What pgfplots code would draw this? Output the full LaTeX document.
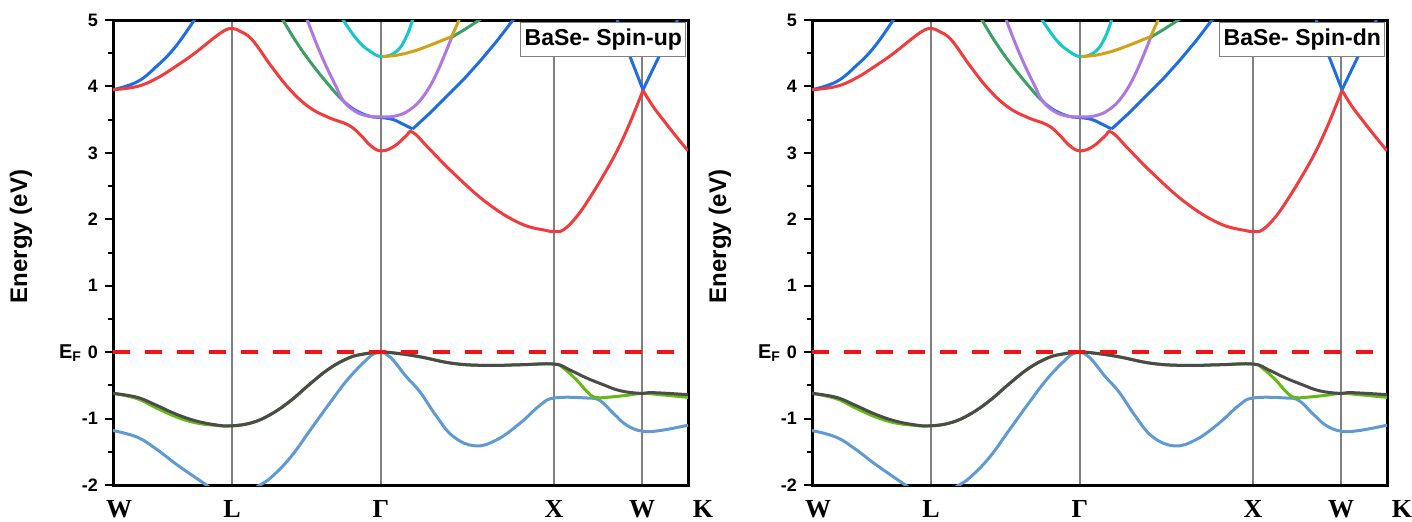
\documentclass[border=0pt]{standalone}
\usepackage{pgfplots}
\pgfplotsset{compat=1.18}
\usepackage{fontspec}
\setmainfont{Liberation Sans}
\newfontfamily\tnr{Liberation Serif}

\definecolor{cbred}{RGB}{240,60,60}
\definecolor{cbblue}{RGB}{30,110,225}
\definecolor{cbgreen}{RGB}{60,160,100}
\definecolor{cbpurple}{RGB}{175,120,225}
\definecolor{cbcyan}{RGB}{20,200,200}
\definecolor{cbgold}{RGB}{210,160,20}
\definecolor{vgray}{RGB}{75,75,75}
\definecolor{vlime}{RGB}{100,185,20}
\definecolor{vblue}{RGB}{95,155,210}
\definecolor{efred}{RGB}{240,20,20}

\pgfplotsset{
  bandaxis/.style={
    scale only axis, width=287.5pt, height=232.5pt, anchor=south west,
    xmin=0, xmax=575, ymin=-2, ymax=5,
    xtick={0,119,268,441,529,575},
    xticklabels={{\hspace{6pt}W},{L\hspace{3pt}},{Γ},{X\hspace{3pt}},{W\hspace{6pt}},{\hspace{15pt}K}},
    x tick label style={font=\tnr\bfseries\fontsize{13}{13}\selectfont, yshift=0pt},
    major x tick style={draw=none},
    xmajorgrids, grid style={gray, line width=0.6pt},
    ytick={-2,...,5},
    yticklabels={-2,-1,{\smash{\fontsize{10}{10}\selectfont E\textsubscript{F}}\hspace{3pt}0},1,2,3,4,5},
    minor y tick num=1,
    ytick pos=left, tick align=outside,
    major tick length=4pt, minor tick length=2.3pt,
    y tick label style={font=\bfseries\fontsize{9}{9}\selectfont},
    every tick/.style={black, line width=1pt},
    axis line style={line width=1.5pt},
    ylabel={Energy (eV)},
    ylabel style={font=\bfseries\fontsize{12}{12}\selectfont, yshift=6.5pt, xshift=8pt},
    every axis plot/.append style={line width=1.5pt},
  }
}

% band segments, x in pixel units along the k-path (W=0, L=119, G=268, X=441, W=529, K=575)
\newcommand\bands{%
  % valence bands
  \addplot[vblue, smooth, tension=0.7] coordinates {
    (0,-1.18) (24.2,-1.28) (43.4,-1.46) (62.6,-1.68) (81.7,-1.88) (93.3,-2.0)
    (105,-2.12) (119,-2.18) (133,-2.12) (147,-2.0) (158.5,-1.88) (177.7,-1.58)
    (196.9,-1.18) (216.1,-0.78) (235.3,-0.40) (254.5,-0.10) (262,-0.02) (268.7,0)
    (275,-0.05) (281.3,-0.14) (292.8,-0.36) (307,-0.60) (323.7,-0.97) (340.3,-1.27)
    (362,-1.41) (383.7,-1.32) (407,-1.07) (427,-0.80) (441.3,-0.69)
    (473.7,-0.69) (487,-0.73) (500.3,-0.92) (513.7,-1.10) (529.3,-1.19) (547,-1.18)
    (575,-1.10)};
  \addplot[vlime, smooth, tension=0.7] coordinates {
    (0,-0.62) (24.2,-0.70) (43.4,-0.84) (62.6,-0.97) (81.7,-1.06) (100.9,-1.10)
    (118.2,-1.11) (139.3,-1.06) (158.5,-0.93) (177.7,-0.73) (196.9,-0.48)
    (216.1,-0.25) (235.3,-0.09) (250,-0.03) (268.7,0) (285,-0.02) (307,-0.07)
    (340.3,-0.17) (373.7,-0.20) (407,-0.19) (441.3,-0.18) (450.3,-0.24)
    (463.7,-0.42) (473.7,-0.59) (482,-0.68) (493.7,-0.68) (513.7,-0.65)
    (529.3,-0.62) (547,-0.64) (575,-0.68)};
  \addplot[vgray, smooth, tension=0.7] coordinates {
    (0,-0.62) (24.2,-0.68) (43.4,-0.80) (62.6,-0.93) (81.7,-1.03) (100.9,-1.09)
    (118.2,-1.11) (139.3,-1.06) (158.5,-0.93) (177.7,-0.73) (196.9,-0.48)
    (216.1,-0.25) (235.3,-0.09) (250,-0.03) (268.7,0) (285,-0.02) (307,-0.07)
    (340.3,-0.17) (373.7,-0.20) (407,-0.19) (441.3,-0.18) (457,-0.27)
    (473.7,-0.39) (490.3,-0.49) (507,-0.58) (527,-0.62) (540.3,-0.61) (575,-0.64)};
  % conduction bands
  \addplot[cbblue, smooth, tension=0.7] coordinates {
    (0,3.95) (24.2,4.07) (43.4,4.30) (62.6,4.60) (83.5,5.05)};
  \addplot[cbblue, smooth, tension=0.7] coordinates {
    (235,3.72) (243.7,3.63) (257,3.55) (269.3,3.53) (280.3,3.50) (290.3,3.43) (299.7,3.36)};
  \addplot[cbblue] coordinates {
    (299.7,3.36) (317,3.60) (333.7,3.85) (350.3,4.10) (367,4.38) (383.7,4.68) (401,5.02)};
  \addplot[cbblue] coordinates {(503,5.05) (517,4.45) (530,3.95)};
  \addplot[cbblue] coordinates {(530,3.95) (546,4.45) (566,5.05)};
  \addplot[cbgreen, smooth, tension=0.7] coordinates {
    (168,5.05) (183.7,4.66) (200.3,4.31) (217,4.0) (227,3.83) (235,3.72)};
  \addplot[cbgreen] coordinates {(338.7,4.74) (353,4.87) (368.3,5.02)};
  \addplot[cbpurple, smooth, tension=0.7] coordinates {
    (193,5.05) (203,4.66) (213,4.31) (223,4.0) (229.7,3.80) (239.7,3.65) (253,3.56)
    (269.3,3.54) (283.7,3.56) (297,3.65) (310.3,3.85) (323.7,4.20) (338.7,4.74)};
  \addplot[cbcyan, smooth, tension=0.7] coordinates {
    (228,5.05) (243.7,4.71) (257,4.53) (269.3,4.45) (283.7,4.53) (293.7,4.76) (300.5,5.05)};
  \addplot[cbgold, smooth, tension=0.7] coordinates {
    (269.3,4.45) (283.7,4.47) (300.3,4.53) (317,4.62) (330.3,4.70) (338.7,4.75)};
  \addplot[cbgold] coordinates {(338.7,4.75) (347.5,5.05)};
  \addplot[cbred, smooth, tension=0.7] coordinates {
    (0,3.95) (24.2,4.00) (43.4,4.12) (62.6,4.30) (81.7,4.50) (100.9,4.73) (112.5,4.85)
    (120.1,4.87) (127,4.83) (139.3,4.70) (158.5,4.30) (177.7,3.94) (196.9,3.68)
    (216.1,3.53) (235.3,3.42) (246.8,3.28) (258.3,3.10) (268.7,3.03) (281.3,3.10)
    (292.8,3.25) (299.7,3.31) (317,3.05) (340,2.70) (373.7,2.25) (407,1.94)
    (433.7,1.83) (441.3,1.82) (450.3,1.84) (463.7,2.04) (477,2.33) (490,2.65)
    (503,3.00) (516,3.42) (530,3.94)};
  \addplot[cbred, smooth, tension=0.7] coordinates {
    (530,3.94) (540,3.70) (550,3.50) (562,3.27) (575,3.03)};
  % Fermi level
  \addplot[efred, line width=1.8pt, dash pattern=on 8.5pt off 7.5pt] coordinates {(0,0) (575,0)};
}

\begin{document}
\begin{tikzpicture}
\useasboundingbox (0,0) rectangle (706pt,260.5pt);
\begin{axis}[bandaxis, at={(56.5pt,18pt)}]
  \bands
  \node[draw=gray, fill=white, anchor=north east, inner xsep=2pt, inner ysep=3pt,
        font=\bfseries\fontsize{11.5}{11.5}\selectfont] at (rel axis cs:0.997,0.995) {BaSe- Spin-up};
\end{axis}
\begin{axis}[bandaxis, at={(406pt,18pt)}]
  \bands
  \node[draw=gray, fill=white, anchor=north east, inner xsep=2pt, inner ysep=3pt,
        font=\bfseries\fontsize{11.5}{11.5}\selectfont] at (rel axis cs:0.997,0.995) {BaSe- Spin-dn};
\end{axis}
\end{tikzpicture}
\end{document}
